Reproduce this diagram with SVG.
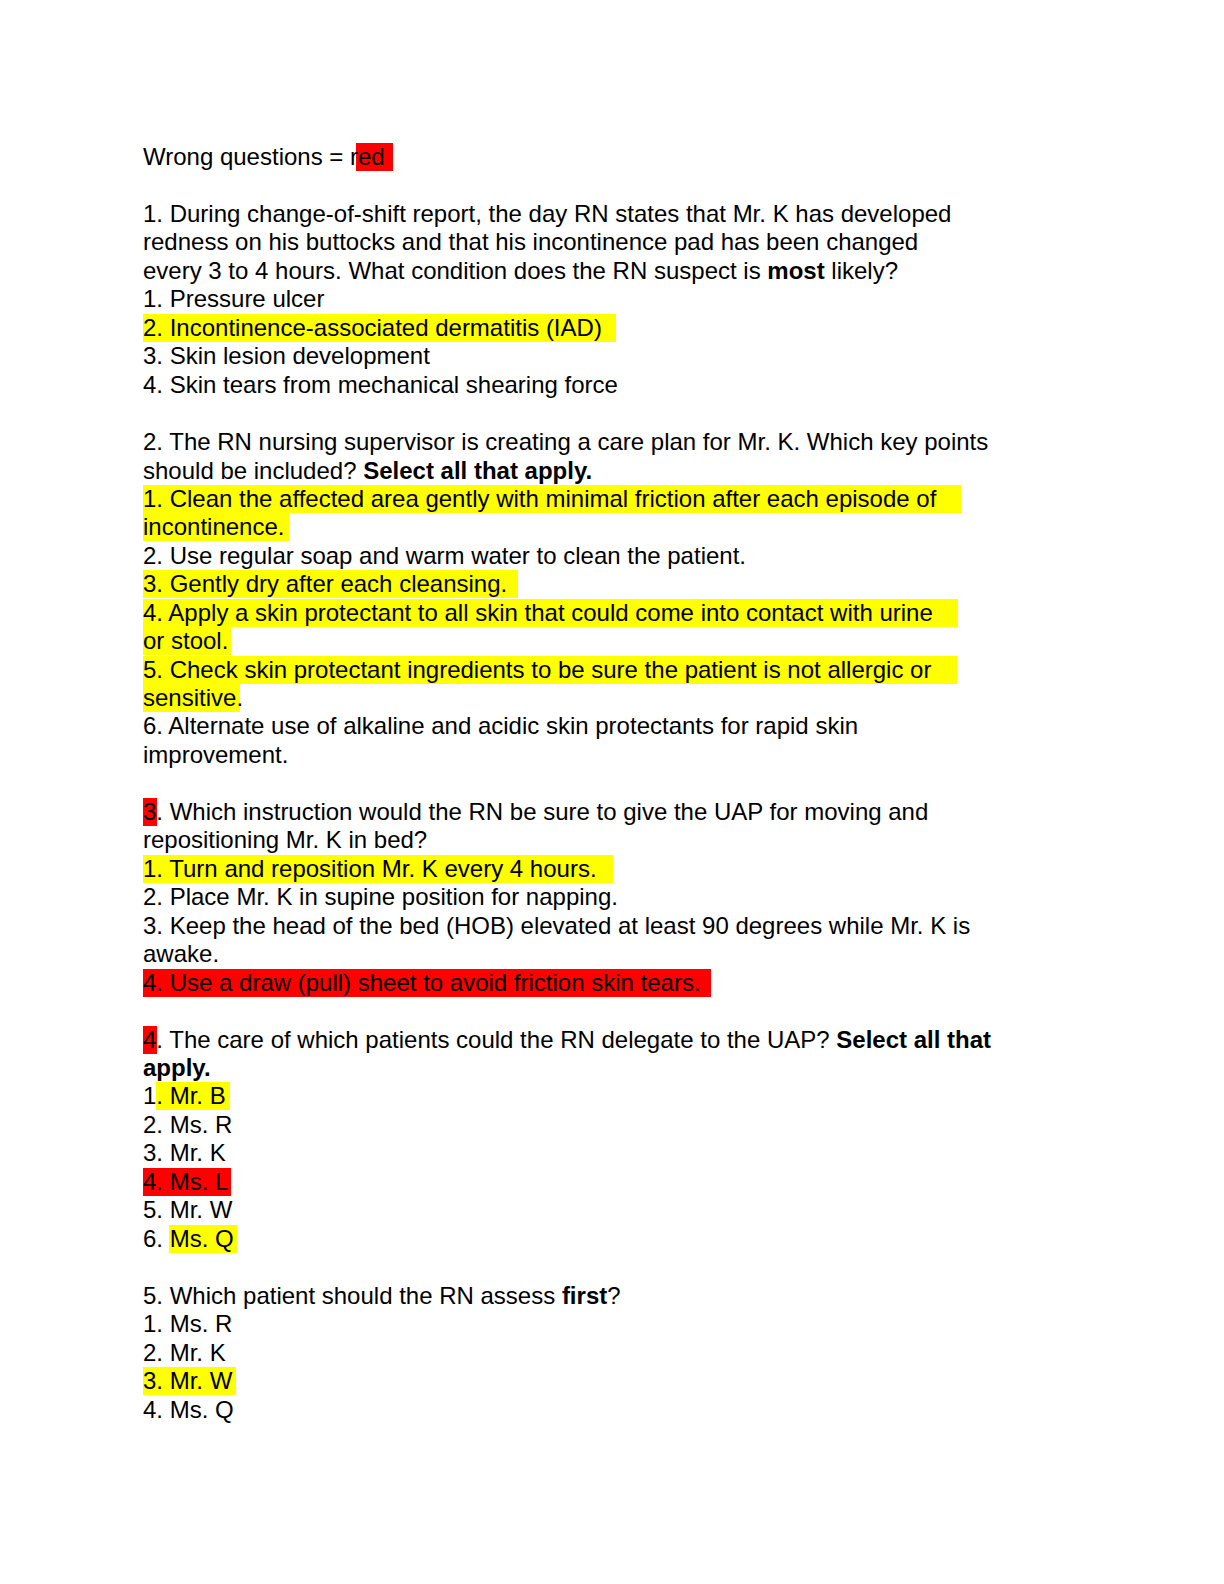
<svg xmlns="http://www.w3.org/2000/svg" width="1224" height="1584" viewBox="0 0 1224 1584">
<style>
text{font-family:"Liberation Sans",Arial,sans-serif;font-size:24px;fill:#000}
.b{font-weight:bold}
.y{fill:#ffff00}
.r{fill:#ff0000}
</style>
<rect width="1224" height="1584" fill="#fff"/>
<g id="highlights">
<rect class="r" x="356" y="143" width="37" height="28"/>
<rect class="y" x="143" y="314" width="473" height="28"/>
<rect class="y" x="143" y="485" width="818" height="28"/>
<rect class="y" x="143" y="513" width="146" height="28"/>
<rect class="y" x="143" y="570" width="375" height="28"/>
<rect class="y" x="143" y="599" width="815" height="28"/>
<rect class="y" x="143" y="627" width="88" height="28"/>
<rect class="y" x="143" y="656" width="814" height="28"/>
<rect class="y" x="143" y="684" width="97" height="28"/>
<rect class="r" x="143" y="798" width="14" height="28"/>
<rect class="y" x="143" y="855" width="470" height="28"/>
<rect class="r" x="143" y="969" width="568" height="28"/>
<rect class="r" x="143" y="1026" width="14" height="28"/>
<rect class="y" x="156" y="1082" width="74" height="28"/>
<rect class="r" x="143" y="1168" width="88" height="28"/>
<rect class="y" x="169" y="1225" width="68" height="28"/>
<rect class="y" x="143" y="1367" width="93" height="28"/>
</g>
<g id="text">
<text x="143" y="165">Wrong questions = red</text>
<text x="143" y="222">1. During change-of-shift report, the day RN states that Mr. K has developed</text>
<text x="143" y="250">redness on his buttocks and that his incontinence pad has been changed</text>
<text x="143" y="279">every 3 to 4 hours. What condition does the RN suspect is <tspan class="b">most</tspan> likely?</text>
<text x="143" y="307">1. Pressure ulcer</text>
<text x="143" y="336">2. Incontinence-associated dermatitis (IAD)</text>
<text x="143" y="364">3. Skin lesion development</text>
<text x="143" y="393">4. Skin tears from mechanical shearing force</text>
<text x="143" y="450">2. The RN nursing supervisor is creating a care plan for Mr. K. Which key points</text>
<text x="143" y="479">should be included? <tspan class="b">Select all that apply.</tspan></text>
<text x="143" y="507">1. Clean the affected area gently with minimal friction after each episode of</text>
<text x="143" y="535">incontinence.</text>
<text x="143" y="564">2. Use regular soap and warm water to clean the patient.</text>
<text x="143" y="592">3. Gently dry after each cleansing.</text>
<text x="143" y="621">4. Apply a skin protectant to all skin that could come into contact with urine</text>
<text x="143" y="649">or stool.</text>
<text x="143" y="678">5. Check skin protectant ingredients to be sure the patient is not allergic or</text>
<text x="143" y="706">sensitive.</text>
<text x="143" y="734">6. Alternate use of alkaline and acidic skin protectants for rapid skin</text>
<text x="143" y="763">improvement.</text>
<text x="143" y="820">3. Which instruction would the RN be sure to give the UAP for moving and</text>
<text x="143" y="848">repositioning Mr. K in bed?</text>
<text x="143" y="877">1. Turn and reposition Mr. K every 4 hours.</text>
<text x="143" y="905">2. Place Mr. K in supine position for napping.</text>
<text x="143" y="934">3. Keep the head of the bed (HOB) elevated at least 90 degrees while Mr. K is</text>
<text x="143" y="962">awake.</text>
<text x="143" y="991">4. Use a draw (pull) sheet to avoid friction skin tears.</text>
<text x="143" y="1048">4. The care of which patients could the RN delegate to the UAP? <tspan class="b">Select all that</tspan></text>
<text x="143" y="1076" class="b">apply.</text>
<text x="143" y="1104">1. Mr. B</text>
<text x="143" y="1133">2. Ms. R</text>
<text x="143" y="1161">3. Mr. K</text>
<text x="143" y="1190">4. Ms. L</text>
<text x="143" y="1218">5. Mr. W</text>
<text x="143" y="1247">6. Ms. Q</text>
<text x="143" y="1304">5. Which patient should the RN assess <tspan class="b">first</tspan>?</text>
<text x="143" y="1332">1. Ms. R</text>
<text x="143" y="1361">2. Mr. K</text>
<text x="143" y="1389">3. Mr. W</text>
<text x="143" y="1418">4. Ms. Q</text>
</g>
</svg>
